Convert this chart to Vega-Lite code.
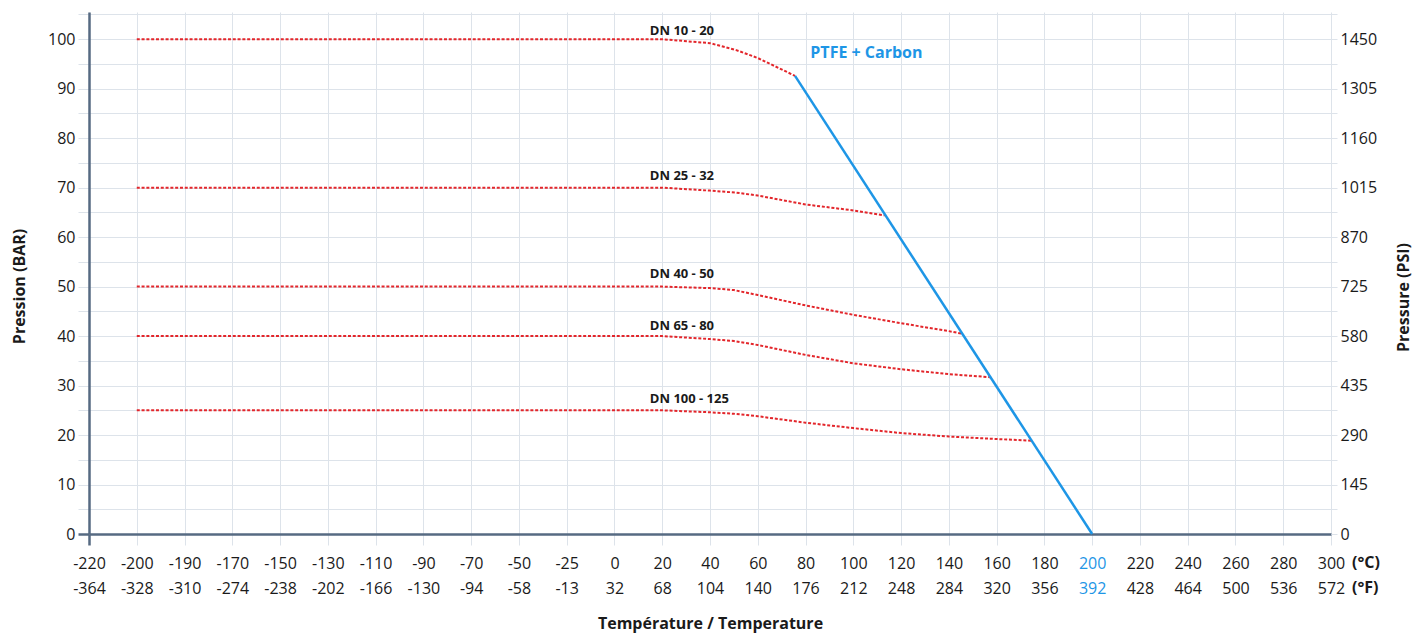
{
  "$schema": "https://vega.github.io/schema/vega-lite/v6.json",
  "width": 1242,
  "height": 522,
  "autosize": "none",
  "padding": {"left": 89, "top": 12, "right": 90, "bottom": 100},
  "background": "white",
  "config": {
    "font": "Open Sans",
    "view": {"stroke": null}
  },
  "datasets": {
    "red": [
      {"s": "DN 10 - 20", "i": 1, "bar": 100}, {"s": "DN 10 - 20", "i": 12, "bar": 100}, {"s": "DN 10 - 20", "i": 13, "bar": 99.2}, {"s": "DN 10 - 20", "i": 13.55, "bar": 97.8}, {"s": "DN 10 - 20", "i": 14, "bar": 96.2}, {"s": "DN 10 - 20", "i": 14.78, "bar": 92.6},
      {"s": "DN 25 - 32", "i": 1, "bar": 70}, {"s": "DN 25 - 32", "i": 12, "bar": 70}, {"s": "DN 25 - 32", "i": 13, "bar": 69.4}, {"s": "DN 25 - 32", "i": 13.55, "bar": 69.0}, {"s": "DN 25 - 32", "i": 14, "bar": 68.4}, {"s": "DN 25 - 32", "i": 15, "bar": 66.6}, {"s": "DN 25 - 32", "i": 16, "bar": 65.4}, {"s": "DN 25 - 32", "i": 16.66, "bar": 64.4},
      {"s": "DN 40 - 50", "i": 1, "bar": 50}, {"s": "DN 40 - 50", "i": 12, "bar": 50}, {"s": "DN 40 - 50", "i": 13, "bar": 49.7}, {"s": "DN 40 - 50", "i": 13.5, "bar": 49.3}, {"s": "DN 40 - 50", "i": 14, "bar": 48.3}, {"s": "DN 40 - 50", "i": 15, "bar": 46.2}, {"s": "DN 40 - 50", "i": 16, "bar": 44.3}, {"s": "DN 40 - 50", "i": 17, "bar": 42.6}, {"s": "DN 40 - 50", "i": 18, "bar": 41.0}, {"s": "DN 40 - 50", "i": 18.27, "bar": 40.5},
      {"s": "DN 65 - 80", "i": 1, "bar": 40}, {"s": "DN 65 - 80", "i": 12, "bar": 40}, {"s": "DN 65 - 80", "i": 13, "bar": 39.4}, {"s": "DN 65 - 80", "i": 13.5, "bar": 39.0}, {"s": "DN 65 - 80", "i": 14, "bar": 38.2}, {"s": "DN 65 - 80", "i": 15, "bar": 36.2}, {"s": "DN 65 - 80", "i": 16, "bar": 34.5}, {"s": "DN 65 - 80", "i": 17, "bar": 33.3}, {"s": "DN 65 - 80", "i": 18, "bar": 32.3}, {"s": "DN 65 - 80", "i": 18.86, "bar": 31.7},
      {"s": "DN 100 - 125", "i": 1, "bar": 25}, {"s": "DN 100 - 125", "i": 12, "bar": 25}, {"s": "DN 100 - 125", "i": 13, "bar": 24.6}, {"s": "DN 100 - 125", "i": 13.5, "bar": 24.3}, {"s": "DN 100 - 125", "i": 14, "bar": 23.8}, {"s": "DN 100 - 125", "i": 15, "bar": 22.5}, {"s": "DN 100 - 125", "i": 16, "bar": 21.4}, {"s": "DN 100 - 125", "i": 17, "bar": 20.4}, {"s": "DN 100 - 125", "i": 18, "bar": 19.7}, {"s": "DN 100 - 125", "i": 19, "bar": 19.2}, {"s": "DN 100 - 125", "i": 19.73, "bar": 18.85}
    ],
    "blue": [
      {"s": "PTFE + Carbon", "i": 14.78, "bar": 92.6},
      {"s": "PTFE + Carbon", "i": 21, "bar": 0}
    ],
    "labels": [
      {"t": "DN 10 - 20", "i": 11.74, "bar": 101.6},
      {"t": "DN 25 - 32", "i": 11.74, "bar": 72.3},
      {"t": "DN 40 - 50", "i": 11.74, "bar": 52.6},
      {"t": "DN 65 - 80", "i": 11.74, "bar": 42.1},
      {"t": "DN 100 - 125", "i": 11.74, "bar": 27.2}
    ],
    "ptfe": [
      {"t": "PTFE + Carbon", "i": 15.1, "bar": 97.3}
    ]
  },
  "encoding": {
    "x": {
      "field": "i",
      "type": "quantitative",
      "scale": {"domain": [0, 26], "nice": false, "zero": false},
      "axis": {
        "values": [0,1,2,3,4,5,6,7,8,9,10,11,12,13,14,15,16,17,18,19,20,21,22,23,24,25,26],
        "labelExpr": "[['-220','-364'],['-200','-328'],['-190','-310'],['-170','-274'],['-150','-238'],['-130','-202'],['-110','-166'],['-90','-130'],['-70','-94'],['-50','-58'],['-25','-13'],['0','32'],['20','68'],['40','104'],['60','140'],['80','176'],['100','212'],['120','248'],['140','284'],['160','320'],['180','356'],['200','392'],['220','428'],['240','464'],['260','500'],['280','536'],['300','572']][datum.value]",
        "labelFontSize": 16,
        "labelLineHeight": 25,
        "labelColor": {"condition": {"test": "datum.value == 21", "value": "#1e96e6"}, "value": "#1a1a1a"},
        "labelOverlap": false,
        "labelFlush": false,
        "labelPadding": 10,
        "grid": true,
        "gridColor": "#dde3ea",
        "gridWidth": 1,
        "tickSize": 11,
        "tickColor": {"condition": {"test": "datum.value == 0", "value": "#566a82"}, "value": "#dde3ea"},
        "tickWidth": {"condition": {"test": "datum.value == 0", "value": 2.5}, "value": 1},
        "domainColor": "#566a82",
        "domainWidth": 2.5,
        "title": "Température / Temperature",
        "titleFontSize": 16,
        "titleFontWeight": "bold",
        "titleColor": "#1a1a1a",
        "titlePadding": 19
      }
    }
  },
  "layer": [
    {
      "data": {"name": "red"},
      "mark": {"type": "line", "color": "#e3262b", "strokeWidth": 2, "strokeDash": [3, 1.8]},
      "encoding": {
        "detail": {"field": "s"},
        "y": {
          "field": "bar",
          "type": "quantitative",
          "scale": {"domain": [0, 105.5], "nice": false},
          "axis": {
            "values": [0,5,10,15,20,25,30,35,40,45,50,55,60,65,70,75,80,85,90,95,100,105],
            "labelExpr": "datum.value % 10 == 0 ? datum.label : ''",
            "labelFontSize": 16,
            "labelColor": "#1a1a1a",
            "labelPadding": 3,
            "grid": true,
            "gridColor": "#dde3ea",
            "gridWidth": 1,
            "tickSize": 11,
            "tickColor": {"condition": {"test": "datum.value == 0", "value": "#566a82"}, "value": "#dde3ea"},
            "tickWidth": {"condition": {"test": "datum.value == 0", "value": 2.5}, "value": 1},
            "domainColor": "#566a82",
            "domainWidth": 2.5,
            "title": "Pression (BAR)",
            "titleFontSize": 16,
            "titleFontWeight": "bold",
            "titleColor": "#1a1a1a",
            "titleX": -70,
            "titleY": 274,
            "titleAngle": -90,
            "titleAlign": "center",
            "titleBaseline": "middle"
          }
        }
      }
    },
    {
      "data": {"name": "blue"},
      "mark": {"type": "line", "color": "#1e96e6", "strokeWidth": 2.5},
      "encoding": {
        "y": {
          "field": "bar",
          "type": "quantitative",
          "scale": {"domain": [0, 105.5], "nice": false},
          "axis": {
            "orient": "right",
            "values": [0,5,10,15,20,25,30,35,40,45,50,55,60,65,70,75,80,85,90,95,100,105],
            "labelExpr": "datum.value % 10 == 0 ? format(datum.value * 14.5, 'd') : ''",
            "labelFontSize": 16,
            "labelColor": "#1a1a1a",
            "labelPadding": 3,
            "grid": false,
            "tickSize": 6,
            "tickColor": "#dde3ea",
            "domain": false,
            "title": "Pressure (PSI)",
            "titleFontSize": 16,
            "titleFontWeight": "bold",
            "titleColor": "#1a1a1a",
            "titleX": 72,
            "titleY": 285,
            "titleAngle": -90,
            "titleAlign": "center",
            "titleBaseline": "middle"
          }
        }
      }
    },
    {
      "data": {"name": "labels"},
      "mark": {"type": "text", "align": "left", "baseline": "middle", "fontSize": 13, "fontWeight": "bold", "color": "#1a1a1a"},
      "encoding": {
        "y": {"field": "bar", "type": "quantitative", "scale": {"domain": [0, 105.5], "nice": false}, "axis": null},
        "text": {"field": "t"}
      }
    },
    {
      "data": {"name": "ptfe"},
      "mark": {"type": "text", "align": "left", "baseline": "middle", "fontSize": 16, "fontWeight": "bold", "color": "#1e96e6"},
      "encoding": {
        "y": {"field": "bar", "type": "quantitative", "scale": {"domain": [0, 105.5], "nice": false}, "axis": null},
        "text": {"field": "t"}
      }
    },
    {
      "data": {"values": [{"i": 26}]},
      "mark": {"type": "text", "align": "left", "baseline": "middle", "fontSize": 16, "fontWeight": "bold", "color": "#1a1a1a", "dx": 21, "lineHeight": 25, "text": ["(°C)", "(°F)"]},
      "encoding": {
        "y": {"datum": -5.85, "type": "quantitative", "scale": {"domain": [0, 105.5], "nice": false}, "axis": null}
      }
    }
  ],
  "resolve": {"scale": {"y": "independent"}, "axis": {"y": "independent"}}
}
